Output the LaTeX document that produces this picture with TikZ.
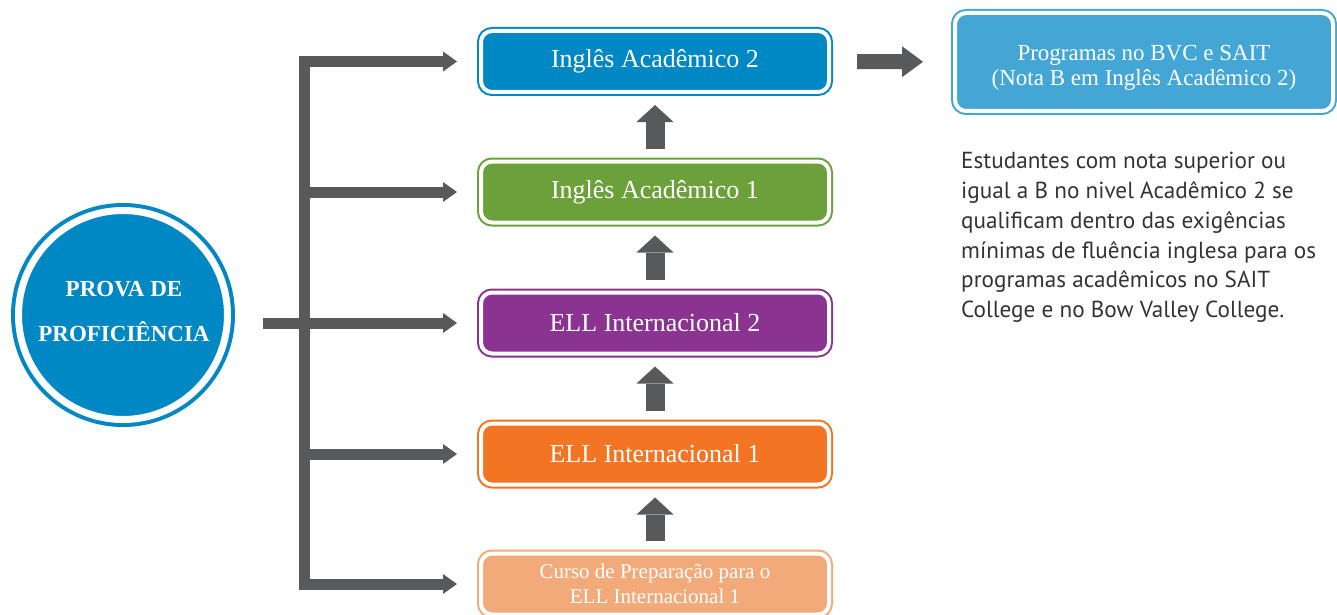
\documentclass[tikz,border=0pt]{standalone}
\usepackage{fontspec}
\setmainfont{Liberation Serif}
\newfontfamily\notefont{PT Sans}
\usetikzlibrary{positioning, arrows.meta}

\definecolor{acadblue}{HTML}{0088C4}
\definecolor{acadgreen}{HTML}{6BA03B}
\definecolor{ellpurple}{HTML}{8A3391}
\definecolor{ellorange}{HTML}{F37523}
\definecolor{prepeach}{HTML}{F3AA7A}
\definecolor{progsky}{HTML}{43A6D5}
\definecolor{arrowgray}{HTML}{58595B}
\definecolor{notegray}{HTML}{333333}

\tikzset{
	levelbox/.style={rectangle, draw=#1, fill=#1, line width=2pt, double=white, double distance=4pt,
		rounded corners=11pt, outer sep=0pt, inner sep=0pt, minimum width=348pt, minimum height=61pt,
		text=white, align=center, font=\fontsize{26}{30}\selectfont},
	uparrow/.style={draw=arrowgray, line width=19pt, -{Triangle[width=37pt,length=17pt,line width=0pt]},
		shorten <=13pt, shorten >=13pt},
	branch/.style={draw=arrowgray, line width=11pt, -{Triangle[width=20pt,length=14pt,line width=0pt]},
		shorten >=24pt},
	bar/.style={draw=arrowgray, line width=11pt}
}

\begin{document}
\begin{tikzpicture}[x=1pt, y=-1pt]
		
		\useasboundingbox (0,0) rectangle (1337,615);
		
		%Proficiency test
		\node [circle, draw=acadblue, fill=acadblue, line width=4pt, double=white, double distance=7pt,
		outer sep=0pt, inner sep=0pt, minimum size=209pt] (prova) at (123,315) {};
		\node [text=white, align=center, font=\bfseries\fontsize{23}{45}\selectfont] (provatext)
		at (124,311) {PROVA DE\\PROFICIÊNCIA};
		
		%Level nodes
		\node [levelbox=acadblue] (ia2) at (655,61.5) {Inglês Acadêmico 2};
		\node [levelbox=acadgreen] (ia1) at (655,192) {Inglês Acadêmico 1};
		\node [levelbox=ellpurple] (ell2) at (655,323) {ELL Internacional 2};
		\node [levelbox=ellorange] (ell1) at (655,454) {ELL Internacional 1};
		\node [levelbox=prepeach, font=\fontsize{21}{25}\selectfont] (prep) at (655,584)
		{Curso de Preparação para o\\ELL Internacional 1};
		
		%Goal node
		\node [levelbox=progsky, minimum width=378pt, minimum height=98pt, text height=52pt,
		font=\fontsize{23}{25}\selectfont] (prog) at (1144,62)
		{Programas no BVC e SAIT\\(Nota B em Inglês Acadêmico 2)};
		
		\node [anchor=north west, inner sep=0pt, align=left, text=notegray,
		font=\notefont\fontsize{23.2}{29.8}\selectfont] (note) at (961,152)
		{Estudantes com nota superior ou\\igual a B no nivel Acadêmico 2 se\\qualificam dentro das exigências\\mínimas de fluência inglesa para os\\programas acadêmicos no SAIT\\College e no Bow Valley College.};
		
		%Links
		\coordinate (stub) at (263,323);
		\coordinate (spine) at (304.5,323);
		\draw [bar] (stub) -- (spine);
		\draw [branch] (spine) |- (ia2.west);
		\draw [branch] (spine) |- (ia1.west);
		\draw [branch] (spine) -- (ell2.west);
		\draw [branch] (spine) |- (ell1.west);
		\draw [branch] (spine) |- (prep.west);
		
		\draw [uparrow] (prep) -- (ell1);
		\draw [uparrow] (ell1) -- (ell2);
		\draw [uparrow] (ell2) -- (ia1);
		\draw [uparrow] (ia1) -- (ia2);
		
		\draw [draw=arrowgray, line width=15pt, -{Triangle[width=31pt,length=21pt,line width=0pt]},
		shorten <=28pt, shorten >=32pt] (ia2) -- (prog);
		
\end{tikzpicture}
\end{document}
